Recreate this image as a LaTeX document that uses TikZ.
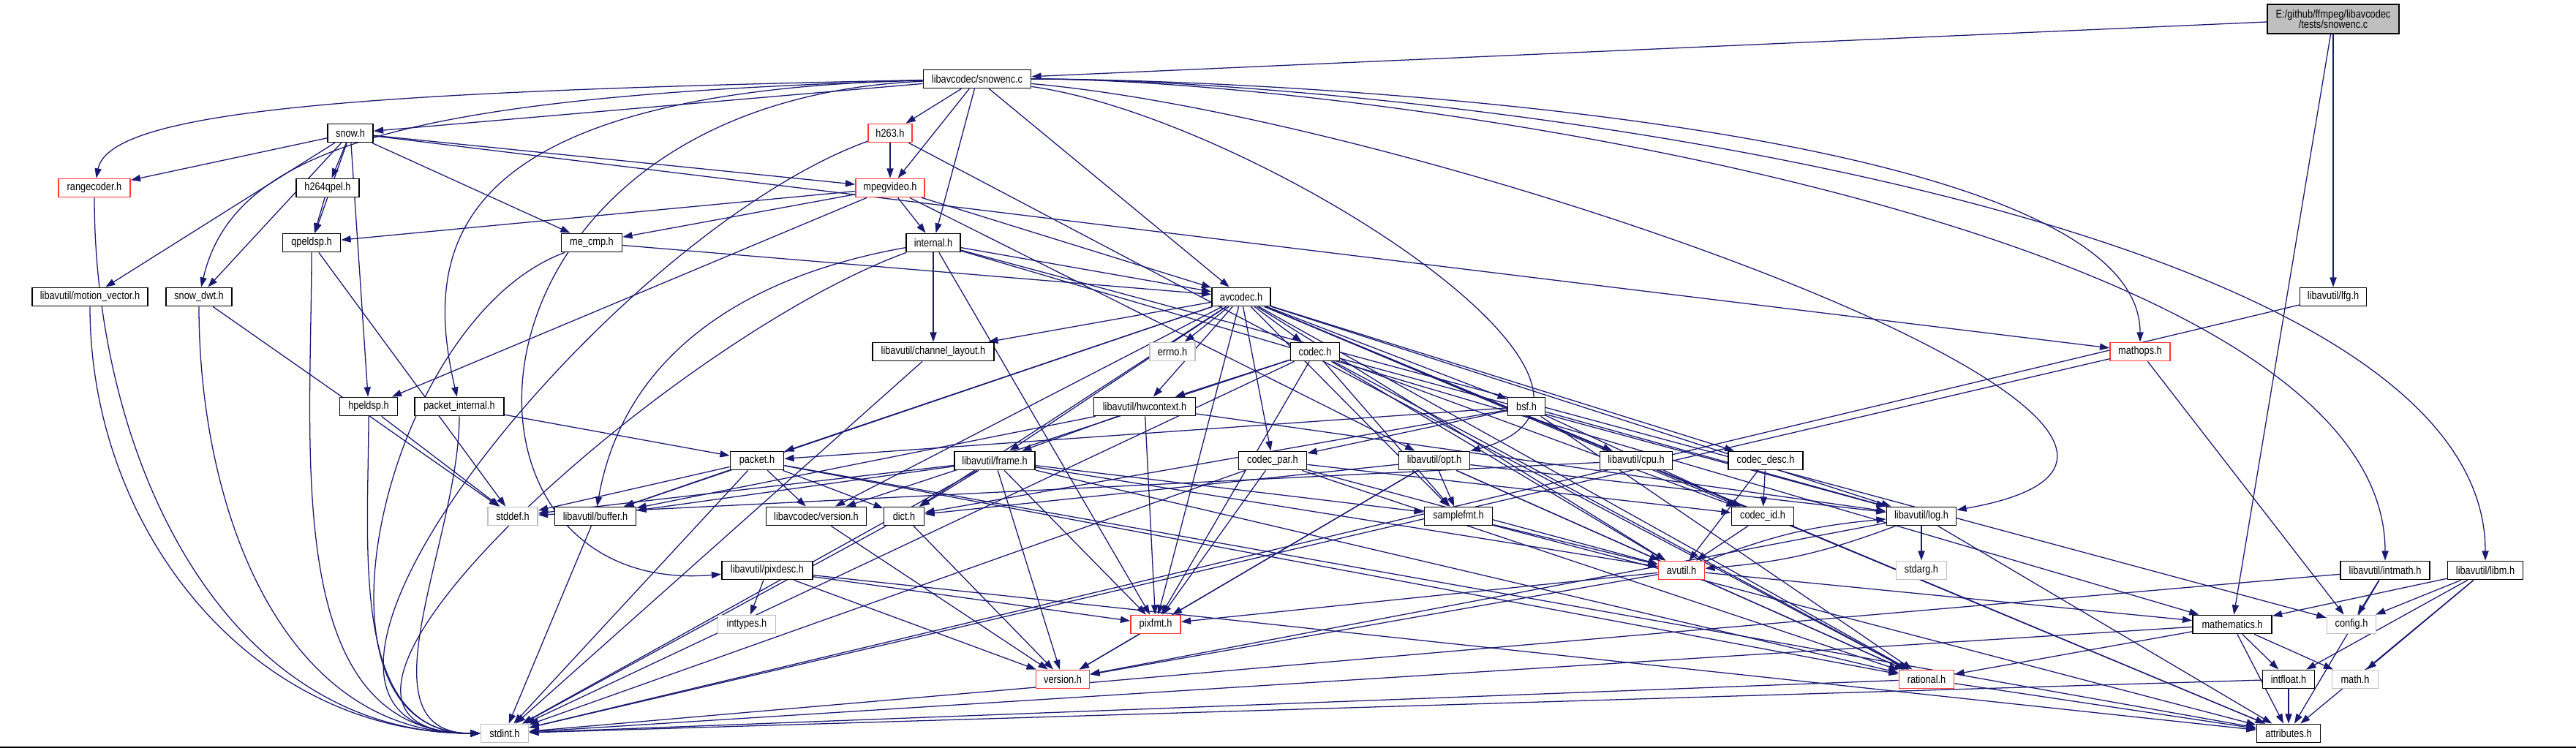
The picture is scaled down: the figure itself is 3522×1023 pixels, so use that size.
\documentclass[tikz,border=0pt]{standalone}
\usepackage{fontspec}
\setmainfont{Liberation Sans}[FakeStretch=0.84]
\usepackage{xcolor}
\usepackage{tikz}
\usetikzlibrary{arrows.meta}
\definecolor{midnight}{HTML}{191970}
\definecolor{shade}{HTML}{BFBFBF}
\definecolor{trunc}{HTML}{FF3838}
\pgfdeclarelayer{back}
\pgfsetlayers{back,main}

\begin{document}
\begin{tikzpicture}[x=0.25pt, y=-0.25pt,
    file/.style={draw=black, fill=white, line width=0.45pt, minimum height=6.25pt,
        inner sep=0pt, font=\fontsize{3.8}{3.6}\selectfont},
    cut/.style={file, draw=trunc},
    sys/.style={file, draw=shade},
    wd/.style={minimum width=#1*0.25pt},
    dep/.style={midnight, line width=0.32pt, -{Triangle[length=3.3pt,width=2.3pt]}}]
\useasboundingbox (0,0) rectangle (3522,1023);
\draw[shade, line width=0.4pt] (0,1022) -- (3522,1022);

% files, row by row
\node[file, fill=shade, wd=180, minimum height=10pt, align=center] (root) at (3190,26) {E:/github/ffmpeg/libavcodec\\/tests/snowenc.c};
\node[file, wd=147] (snowenc) at (1336,108) {libavcodec/snowenc.c};
\node[file, wd=62]  (snow) at (479,182) {snow.h};
\node[cut,  wd=60]  (hgtt) at (1217,182) {h263.h};
\node[cut,  wd=98]  (rangecoder) at (129,257) {rangecoder.h};
\node[file, wd=86]  (hqpel) at (448,257) {h264qpel.h};
\node[cut,  wd=94]  (mpegvideo) at (1217,257) {mpegvideo.h};
\node[file, wd=79]  (qpeldsp) at (426,332) {qpeldsp.h};
\node[file, wd=83]  (mecmp) at (809,332) {me\_cmp.h};
\node[file, wd=74]  (internal) at (1276,332) {internal.h};
\node[file, wd=158] (mvector) at (123,406) {libavutil/motion\_vector.h};
\node[file, wd=90]  (snowdwt) at (272,406) {snow\_dwt.h};
\node[file, wd=80]  (avcodec) at (1697,406) {avcodec.h};
\node[file, wd=91]  (lfg) at (3190,406) {libavutil/lfg.h};
\node[file, wd=166] (chlayout) at (1276,481) {libavutil/channel\_layout.h};
\node[sys,  wd=62]  (errno) at (1603,481) {errno.h};
\node[file, wd=67]  (codec) at (1798,481) {codec.h};
\node[cut,  wd=82]  (mathops) at (2926,481) {mathops.h};
\node[file, wd=79]  (hpeldsp) at (504,556) {hpeldsp.h};
\node[file, wd=122] (pktint) at (628,556) {packet\_internal.h};
\node[file, wd=139] (hwctx) at (1565,556) {libavutil/hwcontext.h};
\node[file, wd=51]  (bsf) at (2087,556) {bsf.h};
\node[file, wd=73]  (packet) at (1035,630) {packet.h};
\node[file, wd=110] (frame) at (1360,630) {libavutil/frame.h};
\node[file, wd=93]  (codecpar) at (1740,630) {codec\_par.h};
\node[file, wd=97]  (opt) at (1961,630) {libavutil/opt.h};
\node[file, wd=99]  (cpu) at (2237,630) {libavutil/cpu.h};
\node[file, wd=102] (codecdesc) at (2414,630) {codec\_desc.h};
\node[sys,  wd=68]  (stddef) at (701,706) {stddef.h};
\node[file, wd=111] (buffer) at (814,706) {libavutil/buffer.h};
\node[file, wd=137] (lcversion) at (1116,706) {libavcodec/version.h};
\node[file, wd=55]  (dict) at (1236,706) {dict.h};
\node[file, wd=93]  (samplefmt) at (1994,706) {samplefmt.h};
\node[file, wd=85]  (codecid) at (2410,706) {codec\_id.h};
\node[file, wd=95]  (log) at (2627,706) {libavutil/log.h};
\node[file, wd=124] (pixdesc) at (1049,780) {libavutil/pixdesc.h};
\node[cut,  wd=63]  (avutil) at (2299,780) {avutil.h};
\node[sys,  wd=69]  (stdarg) at (2627,780) {stdarg.h};
\node[file, wd=122] (intmath) at (3261,780) {libavutil/intmath.h};
\node[file, wd=103] (libm) at (3398,780) {libavutil/libm.h};
\node[sys,  wd=79]  (inttypes) at (1021,854) {inttypes.h};
\node[cut,  wd=68]  (pixfmt) at (1580,854) {pixfmt.h};
\node[file, wd=108] (mathematics) at (3052,854) {mathematics.h};
\node[sys,  wd=67]  (config) at (3215,854) {config.h};
\node[cut,  wd=73]  (version) at (1453,929) {version.h};
\node[cut,  wd=75]  (rational) at (2634,929) {rational.h};
\node[file, wd=71]  (intfloat) at (3129,929) {intfloat.h};
\node[sys,  wd=63]  (mathh) at (3220,929) {math.h};
\node[sys,  wd=65]  (stdint) at (690,1003) {stdint.h};
\node[file, wd=87]  (attributes) at (3129,1003) {attributes.h};

\begin{pgfonlayer}{back}
% plain includes
\foreach \a/\b in {root/snowenc, root/lfg, root/mathematics,
    snowenc/snow, snowenc/hgtt, snowenc/mpegvideo, snowenc/internal, snowenc/avcodec,
    snow/rangecoder, snow/hqpel, snow/qpeldsp, snow/snowdwt, snow/mvector, snow/mecmp,
    snow/hpeldsp, snow/mpegvideo, snow/mathops,
    hgtt/mpegvideo, hgtt/rational, hqpel/qpeldsp,
    mpegvideo/qpeldsp, mpegvideo/mecmp, mpegvideo/hpeldsp, mpegvideo/internal,
    mpegvideo/avcodec, mpegvideo/opt,
    qpeldsp/stddef, mecmp/avcodec, snowdwt/stddef, hpeldsp/stddef, pktint/packet,
    internal/chlayout, internal/pixfmt, internal/avcodec, internal/mathematics, internal/config,
    avcodec/errno, avcodec/samplefmt, avcodec/attributes, avcodec/avutil, avcodec/buffer,
    avcodec/cpu, avcodec/chlayout, avcodec/dict, avcodec/frame, avcodec/hwctx, avcodec/log,
    avcodec/pixfmt, avcodec/rational, avcodec/bsf, avcodec/codec, avcodec/codecdesc,
    avcodec/codecpar, avcodec/codecid, avcodec/packet, avcodec/lcversion,
    codec/stdint, codec/avutil, codec/hwctx, codec/log, codec/pixfmt, codec/rational,
    codec/samplefmt, codec/codecid, codec/lcversion,
    mathops/stdint, mathops/config, lfg/stdint, chlayout/stdint,
    hwctx/buffer, hwctx/frame, hwctx/log, hwctx/pixfmt,
    bsf/dict, bsf/log, bsf/rational, bsf/codecid, bsf/codecpar, bsf/packet,
    packet/stddef, packet/stdint, packet/attributes, packet/buffer, packet/dict,
    packet/rational, packet/lcversion,
    frame/stddef, frame/stdint, frame/avutil, frame/buffer, frame/dict, frame/rational,
    frame/samplefmt, frame/pixfmt, frame/version,
    codecpar/stdint, codecpar/avutil, codecpar/rational, codecpar/pixfmt, codecpar/codecid,
    opt/rational, opt/avutil, opt/dict, opt/log, opt/pixfmt, opt/samplefmt, opt/version,
    cpu/stddef, cpu/attributes, codecdesc/avutil, codecdesc/codecid,
    buffer/stdint, lcversion/version, dict/stdint, dict/version,
    samplefmt/avutil, samplefmt/attributes, codecid/avutil,
    log/stdarg, log/attributes, log/version,
    pixdesc/inttypes, pixdesc/attributes, pixdesc/pixfmt, pixdesc/version,
    avutil/version, avutil/rational, avutil/mathematics, avutil/pixfmt,
    intmath/stdint, intmath/config, intmath/attributes,
    libm/mathh, libm/config, libm/attributes, libm/intfloat, libm/mathematics,
    pixfmt/version,
    mathematics/stdint, mathematics/mathh, mathematics/attributes, mathematics/rational,
    mathematics/intfloat,
    rational/stdint, rational/attributes, intfloat/stdint, intfloat/attributes}
    \draw[dep] (\a) -- (\b);
% long ones into stdint.h from the left
\foreach \a in {rangecoder, mvector, snowdwt, qpeldsp, hpeldsp, pktint}
    \draw[dep] (\a) to[out=-90, in=180] (stdint);
\foreach \a in {mecmp, hgtt, internal}
    \draw[dep] (\a) to[out=200, in=180] (stdint);
\draw[dep] (internal) to[out=190, in=80] (buffer);
% routed round from snowenc.c
\draw[dep] (snowenc) .. controls (500,125) and (150,150) .. (rangecoder);
\draw[dep] (snowenc) .. controls (560,130) and (320,200) .. (snowdwt);
\draw[dep] (snowenc) .. controls (620,125) and (575,330) .. (pktint);
\draw[dep] (snowenc) .. controls (600,140) and (580,820) .. (pixdesc);
\draw[dep] (snowenc) to[out=0, in=90, looseness=0.5] (mathops);
\draw[dep] (snowenc) to[out=0, in=90, looseness=0.6] (intmath);
\draw[dep] (snowenc) to[out=0, in=90, looseness=0.6] (libm);
\draw[dep] (snowenc) to[out=-5, in=10] (log);
\draw[dep] (snowenc) to[out=-8, in=15] (opt);
% avutil.h and log.h include each other
\draw[dep] (avutil) to[bend left=8] (log);
\draw[dep] (log) to[bend left=8] (avutil);
\end{pgfonlayer}
\end{tikzpicture}
\end{document}
